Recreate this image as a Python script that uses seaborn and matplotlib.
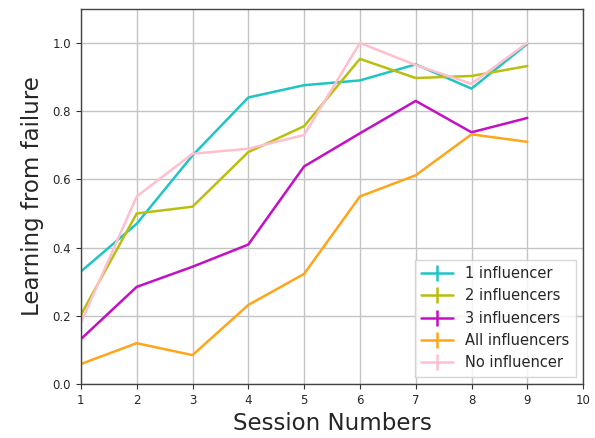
import matplotlib
matplotlib.use("Agg")
import matplotlib.pyplot as plt
from matplotlib.lines import Line2D
import seaborn as sns
import pandas as pd

sessions = [1, 2, 3, 4, 5, 6, 7, 8, 9]
one_influencer = [0.33, 0.47, 0.67, 0.84, 0.876, 0.89, 0.937, 0.866, 0.997]
two_influencers = [0.203, 0.50, 0.52, 0.68, 0.756, 0.953, 0.897, 0.903, 0.932]
three_influencers = [0.132, 0.285, 0.344, 0.409, 0.638, 0.735, 0.83, 0.738, 0.78]
all_influencers = [0.059, 0.12, 0.085, 0.232, 0.323, 0.55, 0.612, 0.732, 0.71]
no_influencer = [0.18, 0.55, 0.675, 0.69, 0.73, 1.0, 0.935, 0.88, 1.0]

series_names = ["1 influencer", "2 influencers", "3 influencers",
                "All influencers", "No influencer"]
series_values = [one_influencer, two_influencers, three_influencers,
                 all_influencers, no_influencer]
colors = ["#1fc4c4", "#b8bf0f", "#c410c4", "#ffa51a", "#ffbfcc"]

rows = []
for name, vals in zip(series_names, series_values):
    for s, v in zip(sessions, vals):
        rows.append({"Session": s, "Value": v, "Series": name})
df = pd.DataFrame(rows)

sns.set_style("ticks")
plt.rcParams["font.family"] = ["DejaVu Sans"]

fig, ax = plt.subplots(figsize=(5.95, 4.38), dpi=100)
sns.lineplot(data=df, x="Session", y="Value", hue="Series",
             hue_order=series_names, palette=colors, linewidth=1.8,
             legend=False, ax=ax)

ax.set_xlim(1, 10)
ax.set_ylim(0, 1.1)
ax.set_xticks(range(1, 11))
ax.set_yticks([0.0, 0.2, 0.4, 0.6, 0.8, 1.0])
ax.set_yticklabels(["0.0", "0.2", "0.4", "0.6", "0.8", "1.0"])
ax.grid(True, color="#c4c4c4", linewidth=1.0)
ax.tick_params(labelsize=8.5, length=3.5, color="#333333")
for sp in ax.spines.values():
    sp.set_color("#444444")
    sp.set_linewidth(1.0)

ax.set_xlabel("Session Numbers", fontsize=16.5, labelpad=4)
ax.set_ylabel("Learning from failure", fontsize=16.5, labelpad=6)

handles = [Line2D([0], [0], color=c, linewidth=1.8, marker="|",
                  markersize=12, markeredgewidth=1.8)
           for c in colors]
ax.legend(handles, series_names, loc="lower right", fontsize=10.5,
          frameon=True, fancybox=False, edgecolor="#cccccc",
          handlelength=2.2, borderpad=0.45, labelspacing=0.5)

fig.subplots_adjust(left=0.136, right=0.98, top=0.98, bottom=0.123)
fig.savefig("out.png", dpi=100)
